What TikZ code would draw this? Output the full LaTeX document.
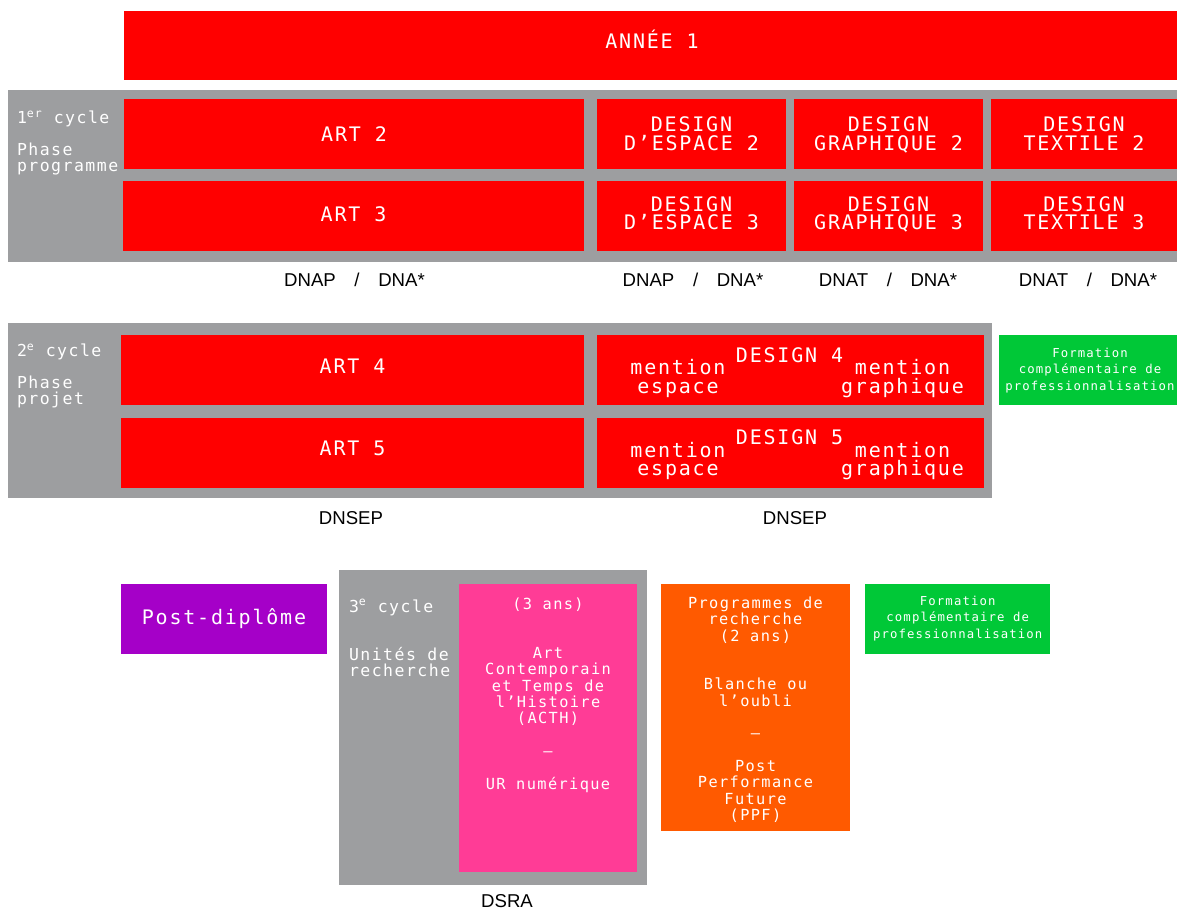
\documentclass[tikz,border=0pt]{standalone}
\usepackage{fontspec}
\usepackage{xcolor}
\usepackage{tikz}

\newfontfamily\monofont[LetterSpace=9]{DejaVu Sans Mono}
\newfontfamily\labelfont{Liberation Sans}

\definecolor{rouge}{RGB}{255,0,0}
\definecolor{gris}{RGB}{157,158,160}
\definecolor{vert}{RGB}{0,200,55}
\definecolor{pourpre}{RGB}{165,0,200}
\definecolor{rose}{RGB}{255,60,150}
\definecolor{orangevif}{RGB}{255,90,0}

\begin{document}
\begin{tikzpicture}[x=1pt,y=-1pt,%
	every node/.style={inner sep=0pt,outer sep=0pt},
	case/.style 2 args={minimum width=#1,minimum height=#2},
	grand/.style={text=white,font=\monofont\fontsize{20}{18.5}\selectfont,align=center,anchor=base},
	moyen/.style={text=white,font=\monofont\fontsize{15.3}{16.3}\selectfont,align=center,anchor=base},
	cote/.style={text=white,font=\monofont\fontsize{16.5}{16}\selectfont,align=left,anchor=base west},
	petit/.style={text=white,font=\monofont\fontsize{12.3}{16.5}\selectfont,align=center,anchor=base},
	diplome/.style={text=black,font=\labelfont\fontsize{18.6}{20}\selectfont,anchor=base}]
	\useasboundingbox (0,0) rectangle (1177,911);

	\node[case={1053}{69},fill=rouge] (annee) at (650.5,45.5) {};
	\node[case={1169}{172},fill=gris] (cycle1) at (592.5,176) {};
	\node[case={460}{70},fill=rouge] (art2) at (354,134) {};
	\node[case={461}{70},fill=rouge] (art3) at (353.5,216) {};
	\node[case={189}{70},fill=rouge] (espace2) at (691.5,134) {};
	\node[case={189}{70},fill=rouge] (graph2) at (888.5,134) {};
	\node[case={186}{70},fill=rouge] (textile2) at (1084,134) {};
	\node[case={189}{70},fill=rouge] (espace3) at (691.5,216) {};
	\node[case={189}{70},fill=rouge] (graph3) at (888.5,216) {};
	\node[case={186}{70},fill=rouge] (textile3) at (1084,216) {};

	\node[case={984}{175},fill=gris] (cycle2) at (500,410.5) {};
	\node[case={463}{70},fill=rouge] (art4) at (352.5,370) {};
	\node[case={463}{70},fill=rouge] (art5) at (352.5,453) {};
	\node[case={387}{70},fill=rouge] (design4) at (790.5,370) {};
	\node[case={387}{70},fill=rouge] (design5) at (790.5,453) {};
	\node[case={178}{70},fill=vert] (formation1) at (1088,370) {};

	\node[case={206}{70},fill=pourpre] (postdip) at (224,619) {};
	\node[case={308}{315},fill=gris] (cycle3) at (493,727.5) {};
	\node[case={178}{288},fill=rose] (unites) at (548,728) {};
	\node[case={189}{247},fill=orangevif] (programmes) at (755.5,707.5) {};
	\node[case={185}{70},fill=vert] (formation2) at (957.5,619) {};

	% multi-line texts sit on the baseline of their last line
	\node[grand] (t-annee) at (652,48.3) {ANNÉE 1};
	\node[cote] (t-cycle1) at (17,123.3) {1\textsuperscript{er} cycle};
	\node[cote] (t-phase1) at (17,171) {Phase\\programme};
	\node[grand] (t-art2) at (354,141) {ART 2};
	\node[grand] (t-art3) at (353.5,221) {ART 3};
	\node[grand] (t-espace2) at (691.5,150) {DESIGN\\D’ESPACE 2};
	\node[grand] (t-graph2) at (888.5,150) {DESIGN\\GRAPHIQUE 2};
	\node[grand] (t-textile2) at (1084,150) {DESIGN\\TEXTILE 2};
	\node[grand] (t-espace3) at (691.5,229.5) {DESIGN\\D’ESPACE 3};
	\node[grand] (t-graph3) at (888.5,229.5) {DESIGN\\GRAPHIQUE 3};
	\node[grand] (t-textile3) at (1084,229.5) {DESIGN\\TEXTILE 3};

	\node[diplome] (dna1) at (354.5,286) {DNAP\quad/\quad DNA*};
	\node[diplome] (dna2) at (693,286) {DNAP\quad/\quad DNA*};
	\node[diplome] (dna3) at (888,286) {DNAT\quad/\quad DNA*};
	\node[diplome] (dna4) at (1088,286) {DNAT\quad/\quad DNA*};

	\node[cote] (t-cycle2) at (17,356.7) {2\textsuperscript{e} cycle};
	\node[cote] (t-phase2) at (17,404.3) {Phase\\projet};
	\node[grand] (t-art4) at (352.5,373.5) {ART 4};
	\node[grand] (t-art5) at (352.5,455) {ART 5};
	\node[grand] (t-design4) at (789.5,362.3) {DESIGN 4};
	\node[grand] (t-esp4) at (678,393) {mention\\espace};
	\node[grand] (t-gra4) at (902.5,393) {mention\\graphique};
	\node[grand] (t-design5) at (789.5,444) {DESIGN 5};
	\node[grand] (t-esp5) at (678,475.5) {mention\\espace};
	\node[grand] (t-gra5) at (902.5,475.5) {mention\\graphique};
	\node[petit] (t-formation1) at (1090,390) {Formation\\complémentaire de\\professionnalisation};

	\node[diplome] (dnsep1) at (351,524) {DNSEP};
	\node[diplome] (dnsep2) at (795,524) {DNSEP};

	\node[grand] (t-postdip) at (224,624) {Post-diplôme};
	\node[cote] (t-cycle3) at (349,612) {3\textsuperscript{e} cycle};
	\node[cote] (t-unites) at (349,676.7) {Unités de\\recherche};
	\node[moyen] (t-acth) at (548,789) {(3 ans)\\[32.6pt]Art\\Contemporain\\et Temps de\\l’Histoire\\(ACTH)\\[16.3pt]—\\[16.3pt]UR numérique};
	\node[moyen] (t-programmes) at (755.5,820.3) {Programmes de\\recherche\\(2 ans)\\[32.6pt]Blanche ou\\l’oubli\\[16.3pt]—\\[16.3pt]Post\\Performance\\Future\\(PPF)};
	\node[petit] (t-formation2) at (957.7,638.3) {Formation\\complémentaire de\\professionnalisation};

	\node[diplome] (dsra) at (507,907) {DSRA};
\end{tikzpicture}
\end{document}
